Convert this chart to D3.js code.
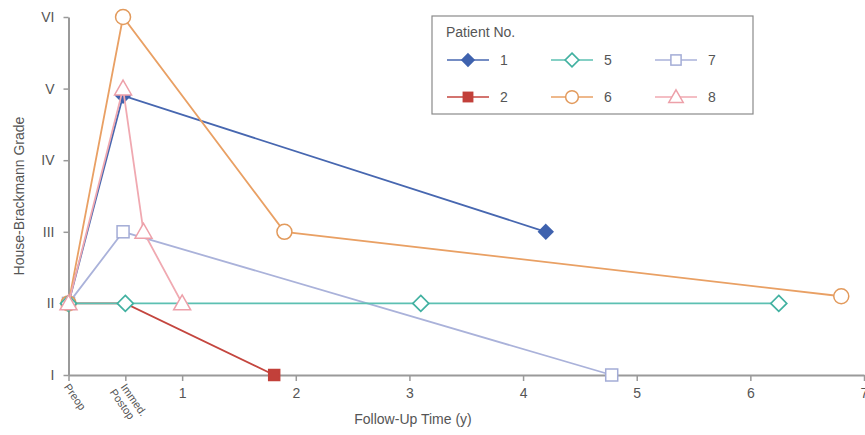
<!DOCTYPE html>
<html>
<head>
<meta charset="utf-8">
<script src="https://cdn.jsdelivr.net/npm/d3@7"></script>
<style>
  body { margin: 0; background: #fff; }
  text { font-family: 'Liberation Sans', Arial, sans-serif; }
</style>
</head>
<body>
<div id="chart"></div>
<script>
// follow-up times (years) and House-Brackmann grades, one array per patient
const patients = ['1', '2', '5', '6', '7', '8']
const times = {
  '1': [0, 0.48, 4.2],
  '2': [0, 0.5, 1.81],
  '5': [0, 0.5, 3.1, 6.25],
  '6': [0, 0.48, 1.9, 6.8],
  '7': [0, 0.48, 4.78],
  '8': [0, 0.48, 0.66, 1.0]
}
const grades = {
  '1': [2, 4.9, 3],
  '2': [2, 2, 1],
  '5': [2, 2, 2, 2],
  '6': [2, 6, 3, 2.1],
  '7': [2, 3, 1],
  '8': [2, 5, 3, 2]
}
// which points show a marker (patient 2's early points are hidden by others in the original)
const shown = {
  '1': [true, true, true],
  '2': [false, false, true],
  '5': [true, true, true, true],
  '6': [true, true, true, true],
  '7': [true, true, true],
  '8': [true, true, true, true]
}
const gradeLabels = ['I', 'II', 'III', 'IV', 'V', 'VI']
const xTicks = [1, 2, 3, 4, 5, 6, 7]
const specialTicks = [{ t: 0, lines: ['Preop'] }, { t: 0.5, lines: ['Immed.', 'Postop'] }]

const colors = { '1': '#4767b0', '2': '#c4463f', '5': '#5cc0b2', '6': '#e9a064', '7': '#aab2da', '8': '#f0a9b1' }
const markerColor = { '1': '#3f62ae', '2': '#c2403a', '5': '#42b1a1', '6': '#e29a5c', '7': '#a3acd6', '8': '#eda0a9' }
const shapes = { '1': 'diamondFill', '2': 'square', '5': 'diamond', '6': 'circle', '7': 'squareOpen', '8': 'triangle' }
// legend layout: column, row
const legendPos = { '1': [0, 0], '2': [0, 1], '5': [1, 0], '6': [1, 1], '7': [2, 0], '8': [2, 1] }

const W = 865, H = 435
const svg = d3.select('#chart').append('svg')
  .attr('width', W).attr('height', H)

const x = d3.scaleLinear().domain([0, 7]).range([68.5, 864])
const y = d3.scaleLinear().domain([1, 6]).range([375, 17])

const axisColor = '#9a9a9a', labelColor = '#555'

// axes
const yAxis = svg.append('g')
  .attr('transform', 'translate(' + x(0) + ',0)')
  .call(d3.axisLeft(y).tickValues([1, 2, 3, 4, 5, 6])
    .tickFormat(d => gradeLabels[d - 1]).tickSize(5).tickPadding(9).tickSizeOuter(0))
const xAxis = svg.append('g')
  .attr('transform', 'translate(0,' + y(1) + ')')
  .call(d3.axisBottom(x).tickValues([0, 0.5].concat(xTicks))
    .tickFormat(d => (d >= 1 ? d : '')).tickSize(6).tickPadding(7).tickSizeOuter(0))
for (const ax of [xAxis, yAxis]) {
  ax.select('.domain').attr('stroke', axisColor).attr('stroke-width', 2)
  ax.selectAll('.tick line').attr('stroke', axisColor).attr('stroke-width', 1.5)
  ax.selectAll('.tick text').attr('fill', labelColor).style('font-size', '14px')
}

// rotated Preop / Immed. Postop labels
specialTicks.forEach(s => {
  const t = svg.append('text')
    .attr('transform', 'translate(' + (x(s.t) - 5) + ',' + (y(1) + 12) + ') rotate(55)')
    .attr('fill', labelColor).style('font-size', '11px')
  s.lines.forEach((l, i) => {
    t.append('tspan').attr('x', i * -2).attr('dy', i === 0 ? 0 : 12).text(l)
  })
})

svg.append('text')
  .attr('transform', 'translate(24,' + y(3.5) + ') rotate(-90)')
  .attr('text-anchor', 'middle').attr('fill', labelColor)
  .style('font-size', '14px').text('House-Brackmann Grade')
svg.append('text')
  .attr('x', 413).attr('y', 424)
  .attr('text-anchor', 'middle').attr('fill', labelColor)
  .style('font-size', '14px').text('Follow-Up Time (y)')

function drawMarker(g, shape, color, cx, cy, s) {
  s = s || 1
  if (shape === 'circle') {
    g.append('circle').attr('cx', cx).attr('cy', cy).attr('r', 7.5 * s)
      .attr('fill', '#fff').attr('stroke', color).attr('stroke-width', 1.5)
  } else if (shape === 'square' || shape === 'squareOpen') {
    const h = (shape === 'square' ? 5.5 : 6) * s
    g.append('rect').attr('x', cx - h).attr('y', cy - h).attr('width', 2 * h).attr('height', 2 * h)
      .attr('fill', shape === 'square' ? color : '#fff').attr('stroke', color).attr('stroke-width', 1.5)
  } else if (shape === 'diamond' || shape === 'diamondFill') {
    const h = (shape === 'diamond' ? 8 : 7) * s
    g.append('path').attr('d', 'M' + cx + ',' + (cy - h) + 'L' + (cx + h) + ',' + cy + 'L' + cx + ',' + (cy + h) + 'L' + (cx - h) + ',' + cy + 'Z')
      .attr('fill', shape === 'diamondFill' ? color : '#fff').attr('stroke', color).attr('stroke-width', 1.7)
  } else if (shape === 'triangle') {
    const h = 8.5 * s
    g.append('path').attr('d', 'M' + cx + ',' + (cy - h) + 'L' + (cx + h) + ',' + (cy + h * 0.75) + 'L' + (cx - h) + ',' + (cy + h * 0.75) + 'Z')
      .attr('fill', '#fff').attr('stroke', color).attr('stroke-width', 1.5)
  }
}

// series lines and markers; later series sit on top where points coincide
const drawOrder = ['2', '1', '7', '6', '5', '8']
drawOrder.forEach(p => {
  const pts = times[p].map((t, i) => ({ t: t, g: grades[p][i], show: shown[p][i] }))
  const g = svg.append('g')
  g.append('path').datum(pts)
    .attr('fill', 'none').attr('stroke', colors[p]).attr('stroke-width', 1.8)
    .attr('d', d3.line().x(d => x(d.t)).y(d => y(d.g)))
  pts.filter(d => d.show).forEach(d => {
    drawMarker(g, shapes[p], markerColor[p], x(d.t), y(d.g))
  })
})

// legend
const lg = svg.append('g').attr('transform', 'translate(432,16)')
lg.append('rect').attr('width', 321).attr('height', 98)
  .attr('fill', '#fff').attr('stroke', '#8a8a8a').attr('stroke-width', 1.2)
lg.append('text').attr('x', 14).attr('y', 21).attr('fill', labelColor)
  .style('font-size', '14px').text('Patient No.')
patients.forEach(p => {
  const cx = 36 + legendPos[p][0] * 104
  const cy = 44 + legendPos[p][1] * 37
  lg.append('line').attr('x1', cx - 21).attr('x2', cx + 21).attr('y1', cy).attr('y2', cy)
    .attr('stroke', colors[p]).attr('stroke-width', 1.5)
  drawMarker(lg, shapes[p], markerColor[p], cx, cy, 0.85)
  lg.append('text').attr('x', cx + 32).attr('y', cy + 5).attr('fill', labelColor)
    .style('font-size', '14px').text(p)
})
</script>
</body>
</html>
